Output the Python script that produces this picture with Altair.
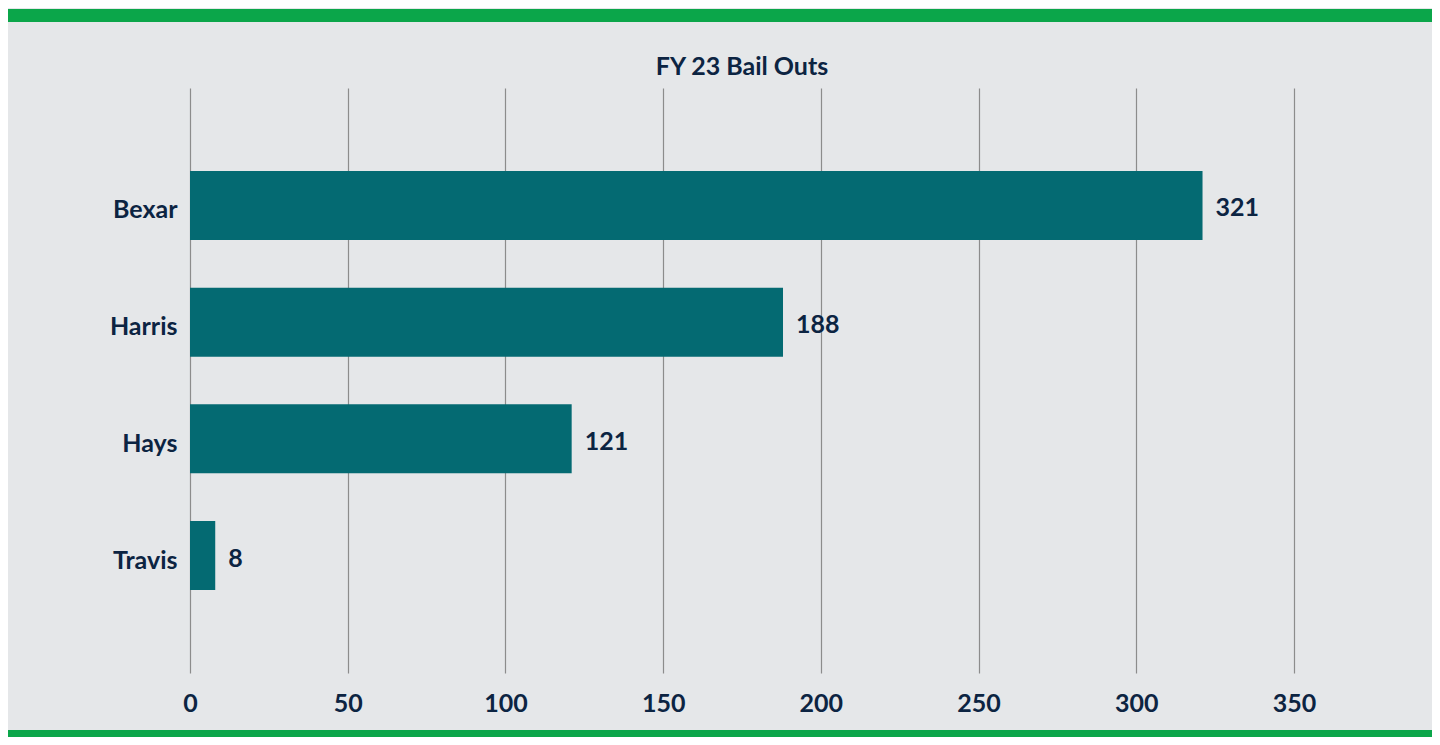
import altair as alt
import pandas as pd

chart_title = "FY 23 Bail Outs"
counties = ["Bexar", "Harris", "Hays", "Travis"]
bail_outs = [321, 188, 121, 8]
x_ticks = [0, 50, 100, 150, 200, 250, 300, 350]

df = pd.DataFrame({"county": counties, "value": bail_outs})
title_df = pd.DataFrame({"title": [chart_title]})

FONT = "Lato"
NAVY = "#0c2442"
TEAL = "#046a72"
GREEN = "#0ba64a"
BG = "#e5e7e9"
FS = 25

PLOT_W, PLOT_H = 1104, 585
PAD = {"left": 182, "top": 80, "right": 138, "bottom": 64}

x_enc = alt.X(
    "value:Q",
    scale=alt.Scale(domain=[0, 350], nice=False, zero=True),
    axis=alt.Axis(
        values=x_ticks, title=None, domain=False, ticks=False, tickSize=0,
        grid=True, gridColor="#8c8c8c", gridWidth=1.2,
        labelFont=FONT, labelFontSize=FS, labelFontWeight="bold",
        labelColor=NAVY, labelPadding=18, labelFlush=False,
    ),
)
y_enc = alt.Y(
    "county:N",
    sort=counties,
    scale=alt.Scale(paddingInner=0.409, paddingOuter=0.711),
    axis=alt.Axis(
        title=None, domain=False, ticks=False, tickSize=0, grid=False,
        labelFont=FONT, labelFontSize=FS, labelFontWeight="bold",
        labelColor=NAVY, labelPadding=13, labelOffset=5,
    ),
)

base = alt.Chart(df)

bars = base.mark_bar(color=TEAL).encode(x=x_enc, y=y_enc)

labels = base.mark_text(
    align="left", baseline="middle", dx=13, dy=3,
    font=FONT, fontSize=FS, fontWeight="bold", color=NAVY,
).encode(x="value:Q", y=alt.Y("county:N", sort=counties), text="value:Q")

title_mark = alt.Chart(title_df).mark_text(
    align="center", baseline="alphabetic",
    font=FONT, fontSize=FS, fontWeight="bold", color=NAVY,
).encode(x=alt.value(PLOT_W / 2), y=alt.value(-13), text="title:N")

top_stripe = alt.Chart(title_df).mark_rule(color=GREEN, strokeWidth=13).encode(
    x=alt.value(-PAD["left"]), x2=alt.value(PLOT_W + PAD["right"]),
    y=alt.value(-72.5),
)
bottom_stripe = alt.Chart(title_df).mark_rule(color=GREEN, strokeWidth=7).encode(
    x=alt.value(-PAD["left"]), x2=alt.value(PLOT_W + PAD["right"]),
    y=alt.value(PLOT_H + PAD["bottom"] - 3.5),
)

chart = (
    alt.layer(bars, labels, title_mark, top_stripe, bottom_stripe)
    .properties(
        width=PLOT_W, height=PLOT_H,
        autosize=alt.AutoSizeParams(type="none"),
        padding=PAD,
        background=BG,
    )
    .configure_view(stroke=None, fill=None)
)

chart.save("out.html", embed_options={"renderer": "svg", "actions": False})
